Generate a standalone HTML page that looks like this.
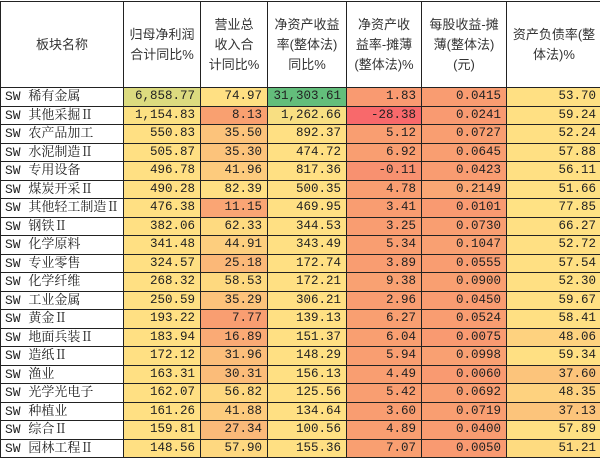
<!DOCTYPE html>
<html><head><meta charset="utf-8"><style>
html,body{margin:0;padding:0;background:#fff;width:600px;height:462px;overflow:hidden}
table{position:absolute;left:0;top:1px;border-collapse:collapse;table-layout:fixed;width:601px}
td{border:1px solid #222;height:17.5px;padding:0 5px 0 0;font-family:"Liberation Mono","Noto Sans CJK SC",monospace;font-size:12.5px;color:#222;text-align:right;white-space:nowrap;overflow:hidden;line-height:17px;background:#FFE083}
td.n{text-align:left;padding-left:4px;background:#fff;font-family:"Liberation Mono","Noto Serif CJK SC",monospace;font-size:13px}
tr.h td{height:85px;background:#fff;text-align:center;padding:0 2px;white-space:normal;font-family:"Liberation Sans","Noto Sans CJK SC",sans-serif;font-size:13px;line-height:20px;color:#333}
</style></head><body>
<table>
<colgroup><col style="width:123px"><col style="width:77px"><col style="width:67px"><col style="width:79px"><col style="width:75px"><col style="width:85px"><col style="width:95px"></colgroup>
<tr class="h"><td>板块名称</td><td>归母净利润<br>合计同比%</td><td>营业总<br>收入合<br>计同比%</td><td>净资产收益<br>率(整体法)<br>同比%</td><td>净资产收<br>益率-摊薄<br>(整体法)%</td><td>每股收益-摊<br>薄(整体法)<br>(元)</td><td>资产负债率(整<br>体法)%</td></tr>
<tr><td class="n">SW 稀有金属</td><td style="background:#DCDB7F">6,858.77</td><td>74.97</td><td style="background:#63BE7B">31,303.61</td><td style="background:#F99A71">1.83</td><td style="background:#F99C71">0.0415</td><td>53.70</td></tr>
<tr><td class="n">SW 其他采掘Ⅱ</td><td style="background:#FCE183">1,154.83</td><td style="background:#F9A070">8.13</td><td style="background:#F8DF82">1,262.66</td><td style="background:#F8696B">-28.38</td><td style="background:#F99A71">0.0241</td><td>59.24</td></tr>
<tr><td class="n">SW 农产品加工</td><td>550.83</td><td style="background:#FCC37B">35.50</td><td>892.37</td><td style="background:#F99E71">5.12</td><td style="background:#F99E71">0.0727</td><td>52.24</td></tr>
<tr><td class="n">SW 水泥制造Ⅱ</td><td>505.87</td><td style="background:#FCC37B">35.30</td><td>474.72</td><td style="background:#F99E71">6.92</td><td style="background:#F99E71">0.0645</td><td>57.88</td></tr>
<tr><td class="n">SW 专用设备</td><td>496.78</td><td style="background:#FDCB7D">41.96</td><td>817.36</td><td style="background:#F89170">-0.11</td><td style="background:#F99C71">0.0423</td><td>56.11</td></tr>
<tr><td class="n">SW 煤炭开采Ⅱ</td><td>490.28</td><td>82.39</td><td>500.35</td><td style="background:#F99E71">4.78</td><td style="background:#FAA774">0.2149</td><td>51.66</td></tr>
<tr><td class="n">SW 其他轻工制造Ⅱ</td><td>476.38</td><td style="background:#FAA574">11.15</td><td>469.95</td><td style="background:#F99D71">3.41</td><td style="background:#F99A71">0.0101</td><td style="background:#FFE284">77.85</td></tr>
<tr><td class="n">SW 钢铁Ⅱ</td><td>382.06</td><td style="background:#FEDA80">62.33</td><td>344.53</td><td style="background:#F99D71">3.25</td><td style="background:#F99E71">0.0730</td><td>66.27</td></tr>
<tr><td class="n">SW 化学原料</td><td>341.48</td><td style="background:#FDCE7E">44.91</td><td>343.49</td><td style="background:#F99E71">5.34</td><td style="background:#F9A072">0.1047</td><td>52.72</td></tr>
<tr><td class="n">SW 专业零售</td><td>324.57</td><td style="background:#FBB878">25.18</td><td>172.74</td><td style="background:#F99D71">3.89</td><td style="background:#F99D71">0.0555</td><td>57.54</td></tr>
<tr><td class="n">SW 化学纤维</td><td>268.32</td><td style="background:#FED97F">58.53</td><td>172.21</td><td style="background:#F9A172">9.38</td><td style="background:#F99F71">0.0900</td><td>52.30</td></tr>
<tr><td class="n">SW 工业金属</td><td>250.59</td><td style="background:#FCC37B">35.29</td><td>306.21</td><td style="background:#F99D71">2.96</td><td style="background:#F99C71">0.0450</td><td>59.67</td></tr>
<tr><td class="n">SW 黄金Ⅱ</td><td>193.22</td><td style="background:#F99E71">7.77</td><td>139.13</td><td style="background:#F99F71">6.27</td><td style="background:#F99D71">0.0524</td><td>58.41</td></tr>
<tr><td class="n">SW 地面兵装Ⅱ</td><td>183.94</td><td style="background:#FAAA75">16.89</td><td>151.37</td><td style="background:#F99F71">6.04</td><td style="background:#F99A71">0.0075</td><td style="background:#FED27F">48.06</td></tr>
<tr><td class="n">SW 造纸Ⅱ</td><td>172.12</td><td style="background:#FBBE7A">31.96</td><td>148.29</td><td style="background:#F99E71">5.94</td><td style="background:#F9A072">0.0998</td><td>59.34</td></tr>
<tr><td class="n">SW 渔业</td><td>163.31</td><td style="background:#FBBC79">30.31</td><td>156.13</td><td style="background:#F99E71">4.49</td><td style="background:#F99A71">0.0060</td><td style="background:#FCC47B">37.60</td></tr>
<tr><td class="n">SW 光学光电子</td><td>162.07</td><td style="background:#FED77F">56.82</td><td>125.56</td><td style="background:#F99E71">5.42</td><td style="background:#F99E71">0.0692</td><td style="background:#FED27F">48.35</td></tr>
<tr><td class="n">SW 种植业</td><td>161.26</td><td style="background:#FDCB7D">41.88</td><td>134.64</td><td style="background:#F99D71">3.60</td><td style="background:#F99E71">0.0719</td><td style="background:#FCC47B">37.13</td></tr>
<tr><td class="n">SW 综合Ⅱ</td><td>159.81</td><td style="background:#FBB979">27.34</td><td>100.56</td><td style="background:#F99E71">4.89</td><td style="background:#F99C71">0.0400</td><td>57.89</td></tr>
<tr><td class="n">SW 园林工程Ⅱ</td><td>148.56</td><td style="background:#FED880">57.90</td><td>155.36</td><td style="background:#F99F71">7.07</td><td style="background:#F99A71">0.0050</td><td style="background:#FEDB80">51.21</td></tr>
</table>
</body></html>
